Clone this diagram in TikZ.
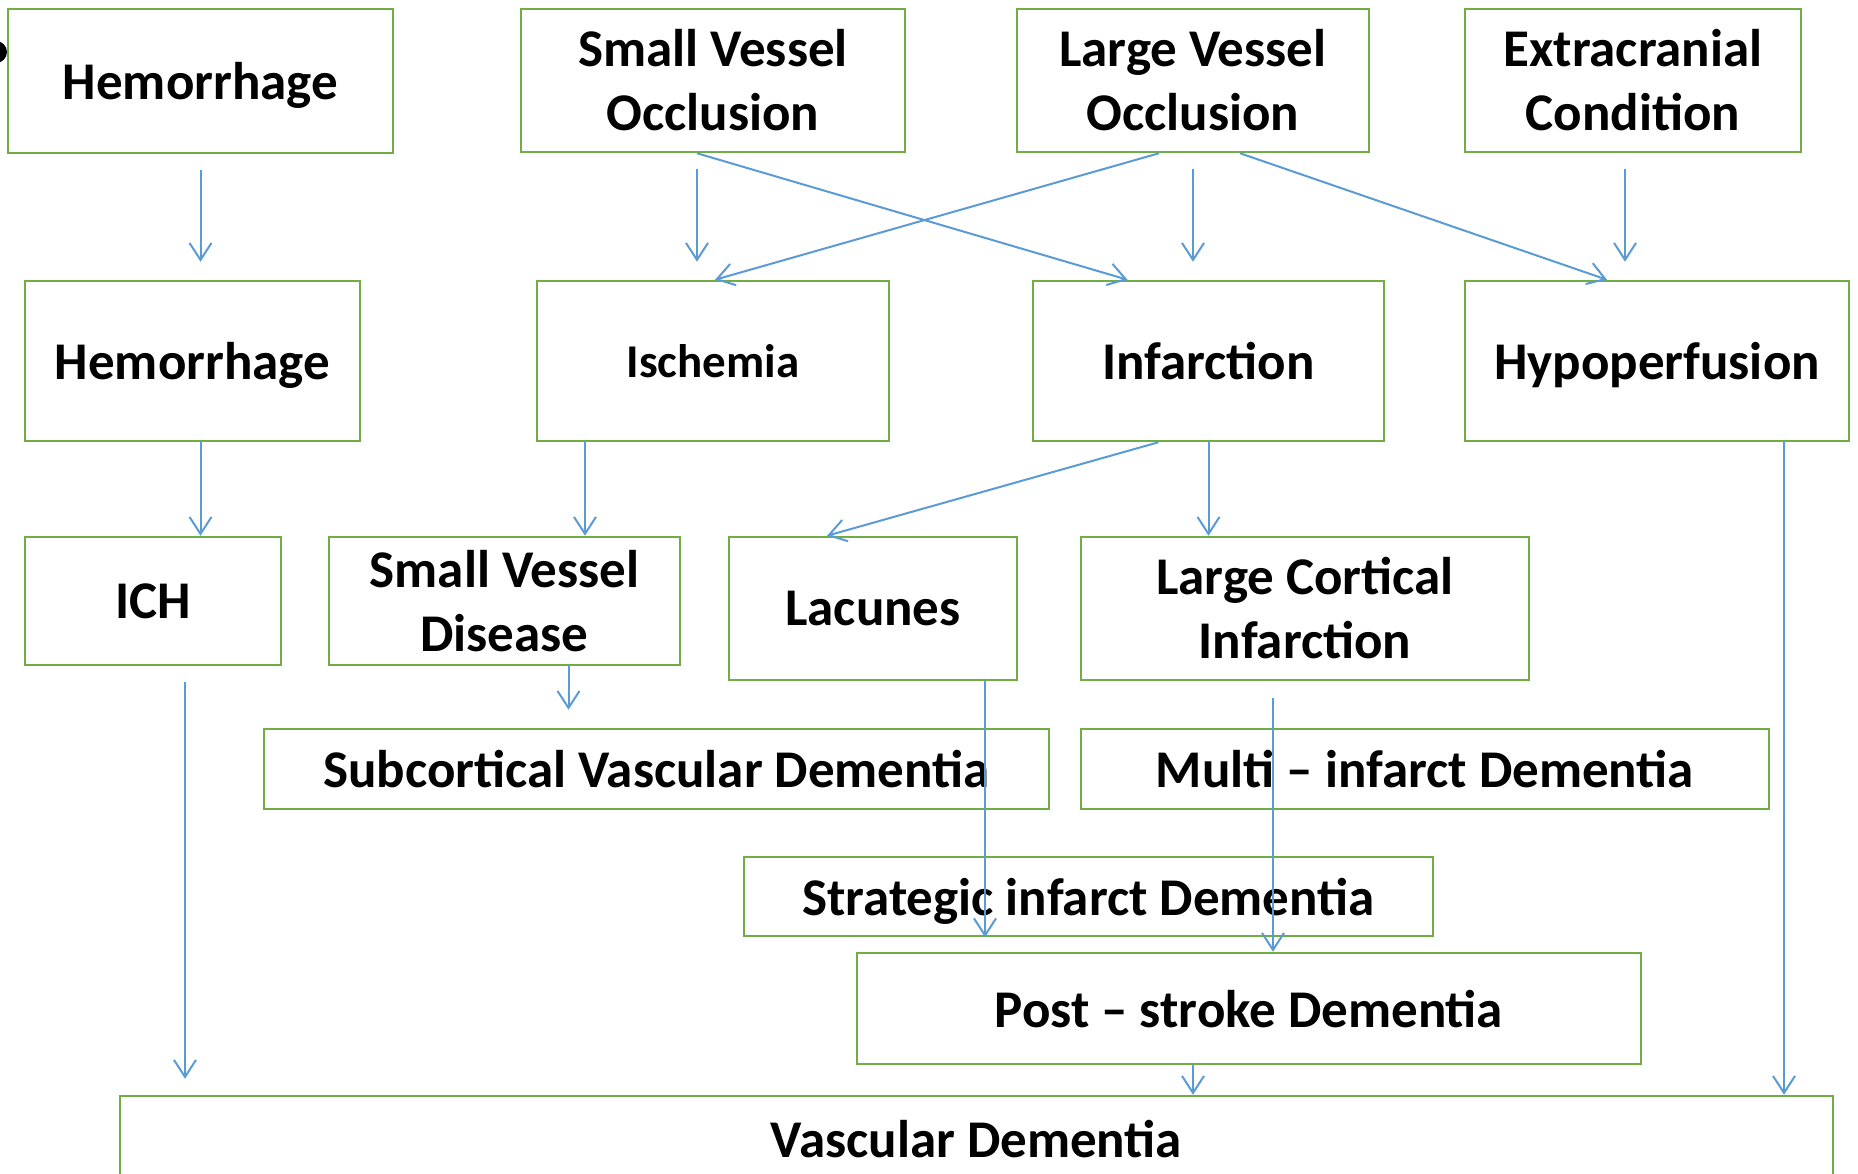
\documentclass[tikz,border=0pt]{standalone}
\usepackage{fontspec}
\setmainfont{Carlito}
\usetikzlibrary{arrows.meta,calc}
\definecolor{boxgreen}{HTML}{70AD47}
\definecolor{arrblue}{HTML}{5B9BD5}
\begin{document}
\begin{tikzpicture}[x=1pt,y=-1pt,
  box/.style={draw=boxgreen, line width=2.5pt, fill=white, rectangle, inner sep=0pt, align=center,
    font=\fontsize{53}{64}\selectfont\bfseries},
  single/.style={text depth=0pt},
  arr/.style={draw=arrblue, line width=2pt, -{Straight Barb[length=17pt,width=22pt]}}]
\useasboundingbox (0,0) rectangle (1858,1173);
% row 1
\node[box, single, minimum width=385pt, minimum height=144pt] (h1) at (200.5,81) {Hemorrhage};
\node[box, minimum width=384pt, minimum height=143pt] (svo) at (713,80.5) {Small Vessel\\Occlusion};
\node[box, minimum width=352pt, minimum height=143pt] (lvo) at (1193,80.5) {Large Vessel\\Occlusion};
\node[box, minimum width=336pt, minimum height=143pt] (ext) at (1633,80.5) {Extracranial\\Condition};
% row 2
\node[box, single, minimum width=335pt, minimum height=160pt] (h2) at (192.5,361) {Hemorrhage};
\node[box, single, minimum width=352pt, minimum height=160pt, font=\fontsize{47}{57}\selectfont\bfseries] (isc) at (713,361) {Ischemia};
\node[box, single, minimum width=351pt, minimum height=160pt] (inf) at (1208.5,361) {Infarction};
\node[box, single, minimum width=384pt, minimum height=160pt] (hypo) at (1657,361) {Hypoperfusion};
% row 3
\node[box, single, minimum width=256pt, minimum height=128pt] (ich) at (153,601) {ICH};
\node[box, minimum width=351pt, minimum height=128pt] (svd) at (504.5,601) {Small Vessel\\Disease};
\node[box, single, minimum width=288pt, minimum height=143pt] (lac) at (873,608.5) {Lacunes};
\node[box, minimum width=448pt, minimum height=143pt] (lci) at (1305,608.5) {Large Cortical\\Infarction};
% row 4-7
\node[box, single, minimum width=785pt, minimum height=80pt] (sub) at (656.5,769) {Subcortical Vascular Dementia};
\node[box, single, minimum width=688pt, minimum height=80pt] (multi) at (1425,769) {Multi -- infarct Dementia};
\node[box, single, minimum width=689pt, minimum height=79pt] (strat) at (1088.5,896.5) {Strategic infarct Dementia};
\node[box, single, minimum width=784pt, minimum height=111pt] (post) at (1249,1008.5) {Post -- stroke Dementia};
\node[box, single, minimum width=1713pt, minimum height=86pt] (vd) at (976.5,1139) {Vascular Dementia};
% small dot at the left edge
\fill[black] (-4,52) circle (11pt);
% arrows
\draw[arr, shorten <=16pt, shorten >=18pt] (h1.south) -- (h1.south |- h2.north);
\draw[arr, shorten <=16pt, shorten >=18pt] ([xshift=-16pt]svo.south) -- ([xshift=-16pt]svo.south |- isc.north);
\draw[arr] ([xshift=-16pt]svo.south) -- ([xshift=-81pt]inf.north);
\draw[arr] ([xshift=-34pt]lvo.south) -- ([xshift=2pt]isc.north);
\draw[arr, shorten <=16pt, shorten >=18pt] (lvo.south) -- (lvo.south |- inf.north);
\draw[arr] ([xshift=47pt]lvo.south) -- ([xshift=-50pt]hypo.north);
\draw[arr, shorten <=16pt, shorten >=18pt] ([xshift=-8pt]ext.south) -- ([xshift=-8pt]ext.south |- hypo.north);
\draw[arr] ([xshift=8pt]h2.south) -- ([xshift=8pt]h2.south |- ich.north);
\draw[arr] ([xshift=-128pt]isc.south) -- ([xshift=-128pt]isc.south |- svd.north);
\draw[arr] ([xshift=-50pt]inf.south) -- ([xshift=-46pt]lac.north);
\draw[arr] (inf.south) -- (inf.south |- lci.north);
\draw[arr, shorten >=18pt] ([xshift=64pt]svd.south) -- ([xshift=64pt]svd.south |- sub.north);
\draw[arr, shorten <=16pt, shorten >=16pt] ([xshift=32pt]ich.south) -- ([xshift=32pt]ich.south |- vd.north);
\draw[arr] ([xshift=112pt]lac.south) -- ([xshift=112pt]lac.south |- strat.south);
\draw[arr, shorten <=17pt] ([xshift=-32pt]lci.south) -- ([xshift=-32pt]lci.south |- post.north);
\draw[arr] ([xshift=-56pt]post.south) -- ([xshift=-56pt]post.south |- vd.north);
\draw[arr] ([xshift=127pt]hypo.south) -- ([xshift=127pt]hypo.south |- vd.north);
\end{tikzpicture}
\end{document}
